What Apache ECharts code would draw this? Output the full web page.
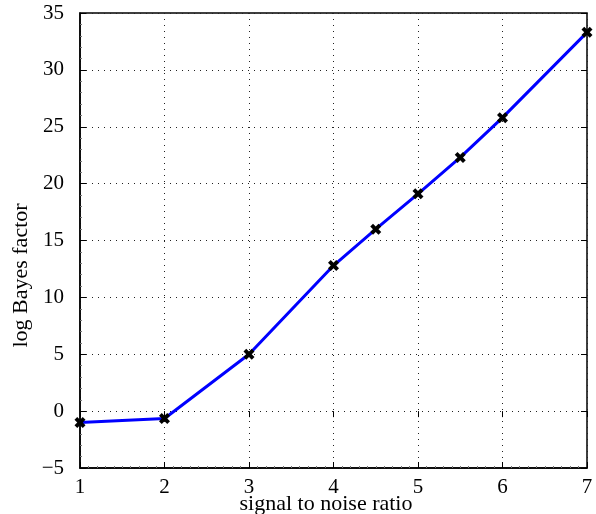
<!DOCTYPE html>
<html><head><meta charset="utf-8">
<script src="https://cdn.jsdelivr.net/npm/echarts@6/dist/echarts.min.js"></script>
<style>html,body{margin:0;padding:0;background:#fff}#c{width:596px;height:514px}</style>
</head><body><div id="c"></div>
<script>
var snr = [1, 2, 3, 4, 4.5, 5, 5.5, 6, 7];
var logBayes = [-1.0, -0.65, 5.0, 12.8, 16.0, 19.1, 22.3, 25.8, 33.3];
var xTicks = [1, 2, 3, 4, 5, 6, 7];
var yTicks = [-5, 0, 5, 10, 15, 20, 25, 30, 35];

var chart = echarts.init(document.getElementById('c'));
var font = 'Liberation Serif, Times New Roman, serif';
var xMark = 'path://M0,2.5L2.5,0L5,2.5L7.5,0L10,2.5L7.5,5L10,7.5L7.5,10L5,7.5L2.5,10L0,7.5L2.5,5Z';
var minus = function (v) { return String(v).replace('-', '\u2212'); };
var dotted = { show: true, lineStyle: { color: '#222', width: 1, type: [1, 5] } };
chart.setOption({
  animation: false,
  grid: { left: 80, right: 9, top: 13, bottom: 46, show: true, borderColor: '#000', borderWidth: 1.5,
          outerBoundsMode: 'none', containLabel: false },
  xAxis: [{
    type: 'value', min: 1, max: 7, interval: 1,
    name: 'signal to noise ratio', nameLocation: 'middle', nameGap: 25, nameMoveOverlap: false,
    nameTextStyle: { fontFamily: font, fontSize: 22, color: '#000', padding: [0, 15, 0, 0] },
    axisLine: { show: true, onZero: false, lineStyle: { color: '#000', width: 1.5 } },
    axisTick: { show: true, inside: true, length: 6, lineStyle: { color: '#000' } },
    minorTick: { show: true, splitNumber: 10, length: 2, lineStyle: { color: '#777' } },
    axisLabel: { fontFamily: font, fontSize: 21, color: '#000', margin: 9, formatter: minus },
    splitLine: dotted
  }, {
    type: 'value', min: 1, max: 7, interval: 1, position: 'top',
    axisLine: { show: false }, axisLabel: { show: false }, splitLine: { show: false },
    axisTick: { show: true, inside: true, length: 6, lineStyle: { color: '#000' } }
  }],
  yAxis: [{
    type: 'value', min: -5, max: 35, interval: 5,
    name: 'log Bayes factor', nameLocation: 'middle', nameGap: 48, nameMoveOverlap: false,
    nameTextStyle: { fontFamily: font, fontSize: 22, color: '#000', padding: [0, 70, 0, 0] },
    axisLine: { show: true, onZero: false, lineStyle: { color: '#000', width: 1.5 } },
    axisTick: { show: true, inside: true, length: 6, lineStyle: { color: '#000' } },
    minorTick: { show: true, splitNumber: 5, length: 2, lineStyle: { color: '#777' } },
    axisLabel: { fontFamily: font, fontSize: 21, color: '#000', margin: 16, formatter: minus },
    splitLine: dotted
  }, {
    type: 'value', min: -5, max: 35, interval: 5, position: 'right',
    axisLine: { show: false }, axisLabel: { show: false }, splitLine: { show: false },
    axisTick: { show: true, inside: true, length: 6, lineStyle: { color: '#000' } }
  }],
  series: [{
    type: 'line',
    data: snr.map(function (x, i) { return [x, logBayes[i]]; }),
    lineStyle: { color: '#0000ff', width: 3 },
    symbol: xMark, symbolSize: 11, showSymbol: true,
    itemStyle: { color: '#000' },
    clip: false
  }]
});
</script></body></html>
